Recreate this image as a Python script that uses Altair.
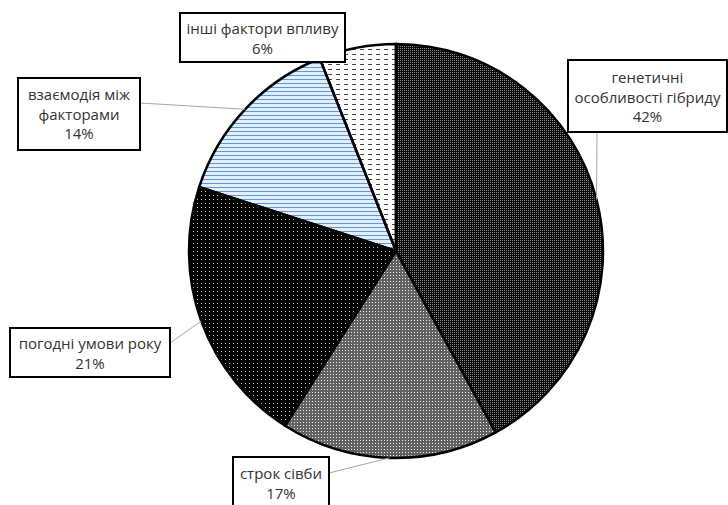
import math
import altair as alt
import pandas as pd

# ---- data ----
categories = ["генетичні особливості гібриду", "строк сівби", "погодні умови року",
              "взаємодія між факторами", "інші фактори впливу"]
label_lines = ["генетичні\nособливості гібриду", "строк сівби", "погодні умови року",
               "взаємодія між\nфакторами", "інші фактори впливу"]
shares = [42, 17, 21, 14, 6]

# ---- layout (annotation placement, pixels) ----
CX, CY, R = 396, 251, 207
box_x1 = [568, 233, 10, 18, 180]
box_y1 = [60, 457, 328, 78, 13]
box_x2 = [727, 329, 170, 140, 345]
box_y2 = [132, 512, 377, 150, 62]
text_y = [78, 474, 344, 95, 29]          # centre of first text line
lead_x = [597, 329, 170, 140, None]
lead_y = [132, 473, 343, 103, None]

# ---- slice textures: (base, line colour, off colour, period, width, mask colour, mask period, mask open) ----
TRANSPARENT = "rgba(255,255,255,0)"
textures = [
    ("#0a0a0a", "#8c8c8c", TRANSPARENT, 2, 1, "#0a0a0a", 2, 1),
    ("#626262", "#ececec", TRANSPARENT, 3, 1, "#626262", 3, 1),
    ("#000000", "#c8c8c8", TRANSPARENT, 4, 1, "#000000", 4, 1),
    ("#ffffff", "#5b9bd5", "#e4eef9", 4, 1.6, None, None, None),
    ("#ffffff", "#444444", TRANSPARENT, 5, 1, "#ffffff", 8, 4),
]

df = pd.DataFrame({
    "order": list(range(len(categories))),
    "category": categories,
    "value": shares,
    "label": [f"{l}\n{v}%" for l, v in zip(label_lines, shares)],
    "bx1": box_x1, "by1": box_y1, "bx2": box_x2, "by2": box_y2,
    "tx": [(a + b) / 2 for a, b in zip(box_x1, box_x2)], "ty": text_y,
    "lx": lead_x, "ly": lead_y,
})
total = sum(shares)


def base_chart():
    return (alt.Chart(df)
            .transform_window(cum="sum(value)", sort=[alt.SortField("order")])
            .transform_calculate(end="datum.cum", start="datum.cum - datum.value"))


theta = alt.Theta("start:Q", scale=alt.Scale(domain=[0, total]), stack=None)
theta2 = alt.Theta2("end:Q")


def slice_bbox(i):
    s = sum(shares[:i]) / total * 360
    e = sum(shares[:i + 1]) / total * 360
    pts = [(CX, CY)]
    angs = [s, e] + [a for a in (0, 90, 180, 270, 360) if s < a < e]
    for a in angs:
        r = math.radians(a)
        pts.append((CX + R * math.sin(r), CY - R * math.cos(r)))
    xs = [p[0] for p in pts]
    ys = [p[1] for p in pts]
    return max(xs) - min(xs), max(ys) - min(ys)


def stripe_gradient(on, off, period, width, extent, vertical_lines):
    stops = []
    k = 0
    while k * period < extent:
        a = k * period / extent
        b = min((k * period + width) / extent, 1)
        c = min((k + 1) * period / extent, 1)
        stops += [alt.GradientStop(offset=a, color=on), alt.GradientStop(offset=b, color=on),
                  alt.GradientStop(offset=b, color=off), alt.GradientStop(offset=c, color=off)]
        k += 1
    if vertical_lines:
        return alt.LinearGradient(gradient="linear", stops=stops, x1=0, x2=1, y1=0, y2=0)
    return alt.LinearGradient(gradient="linear", stops=stops, x1=0, x2=0, y1=0, y2=1)


layers = []
for i, cat in enumerate(categories):
    base, lc, off, lp, lw, mc, mp, mo = textures[i]
    w, h = slice_bbox(i)
    fills = [base, stripe_gradient(lc, off, lp, lw, h, False)]
    if mc is not None:
        fills.append(stripe_gradient(TRANSPARENT, mc, mp, mo, w, True))
    for f in fills:
        layers.append(
            base_chart().transform_filter(alt.datum.category == cat)
            .mark_arc(radius=R, fill=f, strokeWidth=0)
            .encode(theta=theta, theta2=theta2, x=alt.value(CX), y=alt.value(CY))
        )

outline = (base_chart()
           .mark_arc(radius=R, filled=False, stroke="#000000", strokeWidth=2.5)
           .encode(theta=theta, theta2=theta2, x=alt.value(CX), y=alt.value(CY)))
layers.append(outline)

leaders = (base_chart()
           .transform_filter("isValid(datum.lx)")
           .transform_calculate(
               ex=f"{CX} + {R} * sin(2 * PI * (datum.start + datum.end) / 2 / {total})",
               ey=f"{CY} - {R} * cos(2 * PI * (datum.start + datum.end) / 2 / {total})")
           .mark_rule(color="#a6a6a6", strokeWidth=1)
           .encode(x=alt.X("lx:Q", scale=None), y=alt.Y("ly:Q", scale=None),
                   x2="ex:Q", y2="ey:Q"))
layers.append(leaders)

boxes = (alt.Chart(df).mark_rect(fill="#ffffff", stroke="#000000", strokeWidth=2)
         .encode(x=alt.X("bx1:Q", scale=None), y=alt.Y("by1:Q", scale=None),
                 x2="bx2:Q", y2="by2:Q"))
layers.append(boxes)

texts = (alt.Chart(df).mark_text(font="Open Sans", fontSize=15, color="#333333",
                                 lineBreak="\n", lineHeight=19.5, align="center",
                                 baseline="middle")
         .encode(x=alt.X("tx:Q", scale=None), y=alt.Y("ty:Q", scale=None), text="label:N"))
layers.append(texts)

chart = (alt.layer(*layers)
         .properties(width=728, height=505, padding=0, autosize=alt.AutoSizeParams(type="none"))
         .configure_view(stroke=None))

chart.save("out.html", embed_options={"renderer": "svg", "actions": False})
